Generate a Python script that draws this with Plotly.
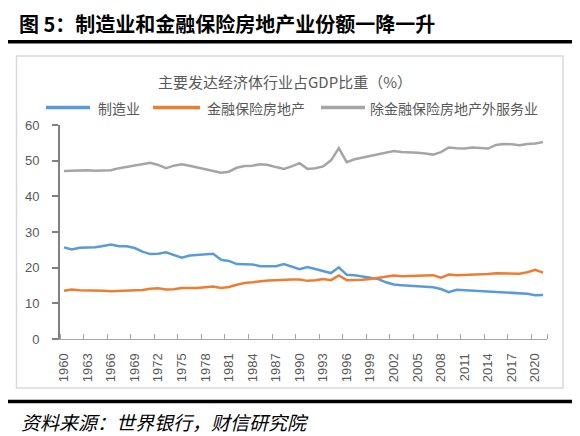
import plotly.graph_objects as go

years = list(range(1960, 2022))
manufacturing = [25.7, 25.1, 25.6, 25.7, 25.7, 26.1, 26.5, 26.0, 26.0, 25.5,
                 24.5, 23.8, 23.9, 24.3, 23.5, 22.8, 23.4, 23.6, 23.8, 23.9,
                 22.2, 21.9, 21.0, 21.0, 20.9, 20.4, 20.3, 20.4, 21.0, 20.4,
                 19.6, 20.2, 19.7, 19.1, 18.5, 20.1, 18.0, 17.9, 17.5, 17.1,
                 16.8, 15.9, 15.3, 15.1, 15.0, 14.9, 14.7, 14.5, 14.0, 13.1,
                 13.8, 13.7, 13.55, 13.4, 13.3, 13.2, 13.1, 13.1, 13.0, 12.7, 12.3, 12.35]
finance = [13.5, 13.85, 13.7, 13.7, 13.65, 13.55, 13.4, 13.45, 13.5, 13.6,
           13.75, 14.1, 14.2, 13.9, 13.95, 14.3, 14.2, 14.3, 14.5, 14.7,
           14.3, 14.6, 15.2, 15.7, 15.9, 16.2, 16.4, 16.5, 16.7, 16.7,
           16.7, 16.3, 16.45, 16.8, 16.5, 17.8, 16.5, 16.5, 16.6, 16.8,
           17.1, 17.5, 17.8, 17.6, 17.7, 17.9, 17.95, 17.9, 17.2, 18.05,
           17.9, 17.95, 18.1, 18.1, 18.2, 18.4, 18.4, 18.3, 18.3, 18.7, 19.4, 18.6]
services = [47.1, 47.2, 47.2, 47.3, 47.2, 47.3, 47.3, 47.9, 48.3, 48.5,
            49.1, 49.4, 48.8, 47.9, 48.6, 49.0, 48.6, 48.1, 47.6, 47.3,
            46.6, 46.9, 48.0, 48.5, 48.6, 49.0, 48.8, 48.2, 47.7, 48.4,
            49.3, 47.7, 47.9, 48.4, 50.1, 53.5, 49.6, 50.4, 50.9, 51.3,
            51.9, 52.4, 52.7, 52.4, 52.4, 52.2, 52.0, 51.7, 52.4, 53.7,
            53.5, 53.4, 53.7, 53.5, 53.4, 54.4, 54.7, 54.6, 54.3, 54.7, 54.8, 55.2]

series_names = ["制造业", "金融保险房地产", "除金融保险房地产外服务业"]
series_colors = ["#5b9bd5", "#ed7d31", "#a5a5a5"]
x_ticks = [str(y) for y in range(1960, 2022, 3)]
y_ticks = [0, 10, 20, 30, 40, 50, 60]

chart_title = "主要发达经济体行业占GDP比重（%）"
fig_title = "<b>图 5：制造业和金融保险房地产业份额一降一升</b>"
source = "资料来源：世界银行，财信研究院"

CJK = "Noto Sans CJK SC"
TXT = "#595959"

fig = go.Figure()
for name, vals, col in zip(series_names, [manufacturing, finance, services], series_colors):
    fig.add_trace(go.Scatter(x=years, y=vals, mode="lines", name=name,
                             line=dict(color=col, width=2.5), showlegend=False))

# the page body has an 8px margin; figure is sized/placed to compensate
OFF = 8
FW, FH = 580 - OFF, 436 - OFF
PL, PR, PT, PB = 60, 547, 125, 339          # plot area in window pixels
W, H = float(PR - PL), float(PB - PT)
def px(X):
    return (X - PL) / W
def py(Y):
    return (PB - Y) / H

shapes = []
shapes.append(dict(type="rect", xref="paper", yref="paper",
                   x0=px(16.5), x1=px(563), y0=py(388), y1=py(56),
                   line=dict(color="#d9d9d9", width=1.5), layer="below"))
shapes.append(dict(type="line", xref="paper", yref="paper",
                   x0=px(8), x1=px(578), y0=py(41.8), y1=py(41.8),
                   line=dict(color="#000000", width=3.5)))
shapes.append(dict(type="line", xref="paper", yref="paper",
                   x0=px(8), x1=px(578), y0=py(401.5), y1=py(401.5),
                   line=dict(color="#000000", width=3.5)))

annotations = [
    dict(text=fig_title, xref="paper", yref="paper", x=px(17), y=py(23),
         xanchor="left", yanchor="middle", showarrow=False,
         font=dict(family=CJK, size=20, color="#000000")),
    dict(text=chart_title, xref="paper", yref="paper", x=px(285), y=py(81.5),
         xanchor="center", yanchor="middle", showarrow=False,
         font=dict(family=CJK, size=15, color=TXT)),
    dict(text=source, xref="paper", yref="paper", x=px(19), y=py(421.5),
         xanchor="left", yanchor="middle", showarrow=False,
         font=dict(family=CJK, size=19, color="#000000", style="italic")),
]

leg_y = py(107.5)
leg_items = [(46, 90, 96), (153, 200, 205), (321, 365, 368)]
for (x0, x1, tx), name, col in zip(leg_items, series_names, series_colors):
    shapes.append(dict(type="line", xref="paper", yref="paper",
                       x0=px(x0), x1=px(x1), y0=leg_y, y1=leg_y,
                       line=dict(color=col, width=3.5)))
    annotations.append(dict(text=name, xref="paper", yref="paper", x=px(tx), y=leg_y,
                            xanchor="left", yanchor="middle", showarrow=False,
                            font=dict(family=CJK, size=14, color=TXT)))

minor_vals = [1959.5 + 3 * k for k in range(21)] + [2021.5]

fig.update_layout(
    width=FW, height=FH,
    margin=dict(l=PL - OFF, r=580 - PR, t=PT - OFF, b=436 - PB),
    paper_bgcolor="white", plot_bgcolor="white",
    shapes=shapes, annotations=annotations,
    showlegend=False,
    xaxis=dict(range=[1959.5, 2021.5], tickmode="array",
               tickvals=list(range(1960, 2022, 3)), ticktext=x_ticks,
               tickangle=-90, ticks="", showgrid=False, zeroline=False,
               showline=True, linecolor="#a6a6a6", linewidth=1.2,
               tickfont=dict(family="Liberation Sans", size=13, color=TXT),
               ticklabelstandoff=8,
               minor=dict(tickmode="array", tickvals=minor_vals, ticks="inside",
                          ticklen=5, tickcolor="#a6a6a6", tickwidth=1, showgrid=False)),
    yaxis=dict(range=[0, 60], tickmode="array", tickvals=y_ticks,
               ticks="outside", ticklen=6, tickcolor="#808080", tickwidth=1.5,
               showgrid=False, zeroline=False,
               showline=True, linecolor="#808080", linewidth=2,
               tickfont=dict(family="Liberation Sans", size=13, color=TXT),
               ticklabelstandoff=10),
)

fig.write_html("out.html")
